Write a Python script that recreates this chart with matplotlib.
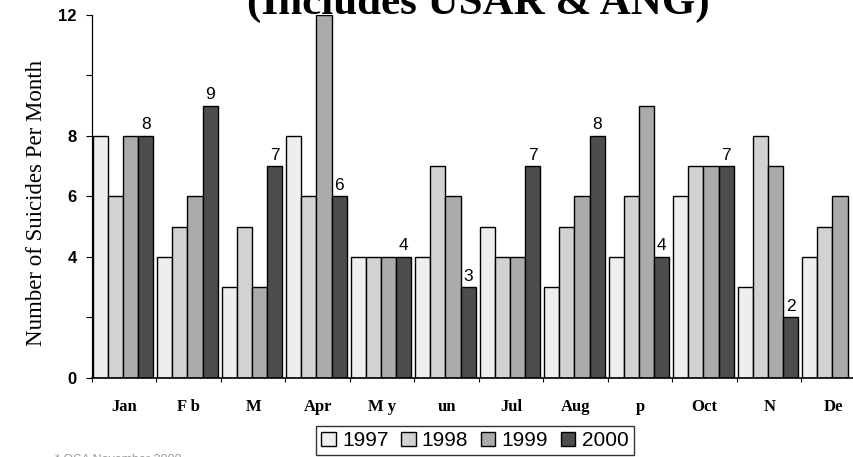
import numpy as np
import matplotlib
matplotlib.use("Agg")
import matplotlib.pyplot as plt

months = ["Jan", "F b", "M", "Apr", "M y", "un", "Jul", "Aug", "p", "Oct", "N", "De"]
years = ["1997", "1998", "1999", "2000"]

y1997 = [8, 4, 3, 8, 4, 4, 5, 3, 4, 6, 3, 4]
y1998 = [6, 5, 5, 6, 4, 7, 4, 5, 6, 7, 8, 5]
y1999 = [8, 6, 3, 12, 4, 6, 4, 6, 9, 7, 7, 6]
y2000 = [8, 9, 7, 6, 4, 3, 7, 8, 4, 7, 2, np.nan]

colors = ["#eeeeee", "#d2d2d2", "#ababab", "#4d4d4d"]

fig = plt.figure(figsize=(8.54, 4.57), dpi=100)
ax = fig.add_axes([0.1077, 0.1729, 0.9063, 0.7943])

x = np.arange(len(months))
w = 0.235
series = [y1997, y1998, y1999, y2000]
for k, (vals, c, lab) in enumerate(zip(series, colors, years)):
    ax.bar(x + 0.01 + k * w, vals, width=w, align="edge", color=c,
           edgecolor="black", linewidth=1.0, label=lab)

# value labels over the 2000 bars
for i, v in enumerate(y2000):
    if np.isnan(v):
        continue
    ax.text(x[i] + 0.01 + 3.5 * w, v + 0.12, f"{int(v)}", ha="center", va="bottom",
            fontsize=12.5, family="Liberation Sans")

ax.set_xlim(0, 12)
ax.set_ylim(0, 12)
ax.set_xticks(np.arange(13))
ax.set_xticklabels([])
ax.set_xticks(x + 0.5, minor=True)
ax.set_xticklabels(months, minor=True, fontsize=12, fontweight="bold",
                   family="Liberation Serif")
ax.tick_params(axis="x", which="major", direction="out", length=3, width=0.8)
ax.tick_params(axis="x", which="minor", length=0, pad=15)

ax.set_yticks(np.arange(0, 13, 2))
ax.set_yticklabels(["0", "", "4", "6", "8", "", "12"], fontsize=12,
                   fontweight="bold", family="Liberation Sans")
ax.tick_params(axis="y", direction="out", length=4, width=0.8, pad=7)

for s in ["top", "right"]:
    ax.spines[s].set_visible(False)
ax.spines["left"].set_linewidth(0.9)
ax.spines["bottom"].set_linewidth(1.2)

fig.text(37 / 854, 1 - 203 / 457, "Number of Suicides Per Month", rotation=90,
         ha="center", va="center", fontsize=16.5, family="Liberation Serif")

fig.text(478 / 854, 1 - 14 / 457, "(Includes USAR & ANG)", ha="center",
         va="baseline", fontsize=31, fontweight="bold", family="Liberation Serif")

leg = ax.legend(loc="upper left", bbox_to_anchor=(316 / 854, 1 - 426 / 457),
                bbox_transform=fig.transFigure, ncol=4, frameon=True,
                fancybox=False, edgecolor="black", fontsize=15,
                handlelength=0.7, handleheight=0.7, handletextpad=0.3,
                columnspacing=0.6, borderpad=0.25, borderaxespad=0)
leg.get_frame().set_linewidth(1.0)
for t in leg.get_texts():
    t.set_family("Liberation Sans")

fig.text(55 / 854, -6 / 457, "* OSA November 2000", fontsize=9, color="#999999",
         family="Liberation Sans")

fig.savefig("out.png", dpi=100)
